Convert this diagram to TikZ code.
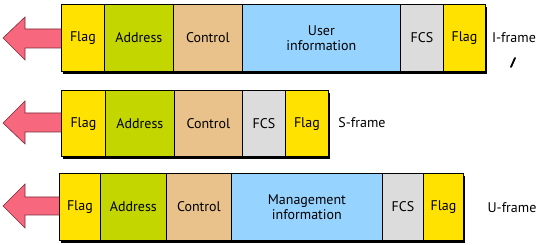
\documentclass[tikz,border=0pt]{standalone}
\usepackage{fontspec}
\setmainfont{PT Sans}
\definecolor{cflag}{HTML}{FFE200}
\definecolor{caddr}{HTML}{C3D600}
\definecolor{cctrl}{HTML}{E8C18B}
\definecolor{cinfo}{HTML}{96D4FF}
\definecolor{cfcs}{HTML}{DCDCDC}
\definecolor{carrow}{HTML}{F7687F}
\definecolor{carrowd}{HTML}{7A2A38}
\begin{document}
\begin{tikzpicture}[x=1pt,y=1pt,
  field/.style={draw=black, line width=0.8pt, anchor=south west, inner sep=0pt,
    font=\fontsize{14}{15}\selectfont, align=center},
  shadowbox/.style={fill=black},
  bigarrow/.style={fill=carrow, draw=carrowd, line width=0.6pt, line join=miter},
  lbl/.style={font=\fontsize{14}{15}\selectfont, inner sep=0pt}]
\useasboundingbox (0,0) rectangle (548,245);
% ---------- I-frame ----------
\fill[shadowbox] (63,171) rectangle (487,238);
\node[field, fill=cflag, minimum width=43, minimum height=67] (i1) at (61,173) {Flag};
\node[field, fill=caddr, minimum width=69, minimum height=67] (i2) at (104,173) {Address};
\node[field, fill=cctrl, minimum width=69, minimum height=67] (i3) at (173,173) {Control};
\node[field, fill=cinfo, minimum width=158, minimum height=67] (i4) at (242,173) {User\\information};
\node[field, fill=cfcs, minimum width=43, minimum height=67] (i5) at (400,173) {FCS};
\node[field, fill=cflag, minimum width=42, minimum height=67] (i6) at (443,173) {Flag};
\node[lbl] (il) at (514,207) {I-frame};
\draw[bigarrow] (i1.west|-0,216) -- (25,216) -- (25,228) -- (3,207) -- (25,185) -- (25,197) -- (i1.west|-0,197);
\coordinate (p1) at (511,178);
\coordinate (p2) at (515,187);
\draw[line width=1.8pt, line cap=round] (p1) -- (p2);
% ---------- S-frame ----------
\fill[shadowbox] (63,86) rectangle (330,152);
\node[field, fill=cflag, minimum width=44, minimum height=66] (s1) at (61,88) {Flag};
\node[field, fill=caddr, minimum width=69, minimum height=66] (s2) at (105,88) {Address};
\node[field, fill=cctrl, minimum width=68, minimum height=66] (s3) at (174,88) {Control};
\node[field, fill=cfcs, minimum width=43, minimum height=66] (s4) at (242,88) {FCS};
\node[field, fill=cflag, minimum width=43, minimum height=66] (s5) at (285,88) {Flag};
\node[lbl] (sl) at (362,122) {S-frame};
\draw[bigarrow] (s1.west|-0,132) -- (25,132) -- (25,144) -- (3,122) -- (25,101) -- (25,113) -- (s1.west|-0,113);
% ---------- U-frame ----------
\fill[shadowbox] (61,2) rectangle (465,69);
\node[field, fill=cflag, minimum width=41, minimum height=67] (u1) at (59,4) {Flag};
\node[field, fill=caddr, minimum width=66, minimum height=67] (u2) at (100,4) {Address};
\node[field, fill=cctrl, minimum width=65, minimum height=67] (u3) at (166,4) {Control};
\node[field, fill=cinfo, minimum width=151, minimum height=67] (u4) at (231,4) {Management\\information};
\node[field, fill=cfcs, minimum width=41, minimum height=67] (u5) at (382,4) {FCS};
\node[field, fill=cflag, minimum width=40, minimum height=67] (u6) at (423,4) {Flag};
\node[lbl] (ul) at (512,37) {U-frame};
\draw[bigarrow] (u1.west|-0,48) -- (25,48) -- (25,61) -- (3,39) -- (25,17) -- (25,30) -- (u1.west|-0,30);
\end{tikzpicture}
\end{document}
